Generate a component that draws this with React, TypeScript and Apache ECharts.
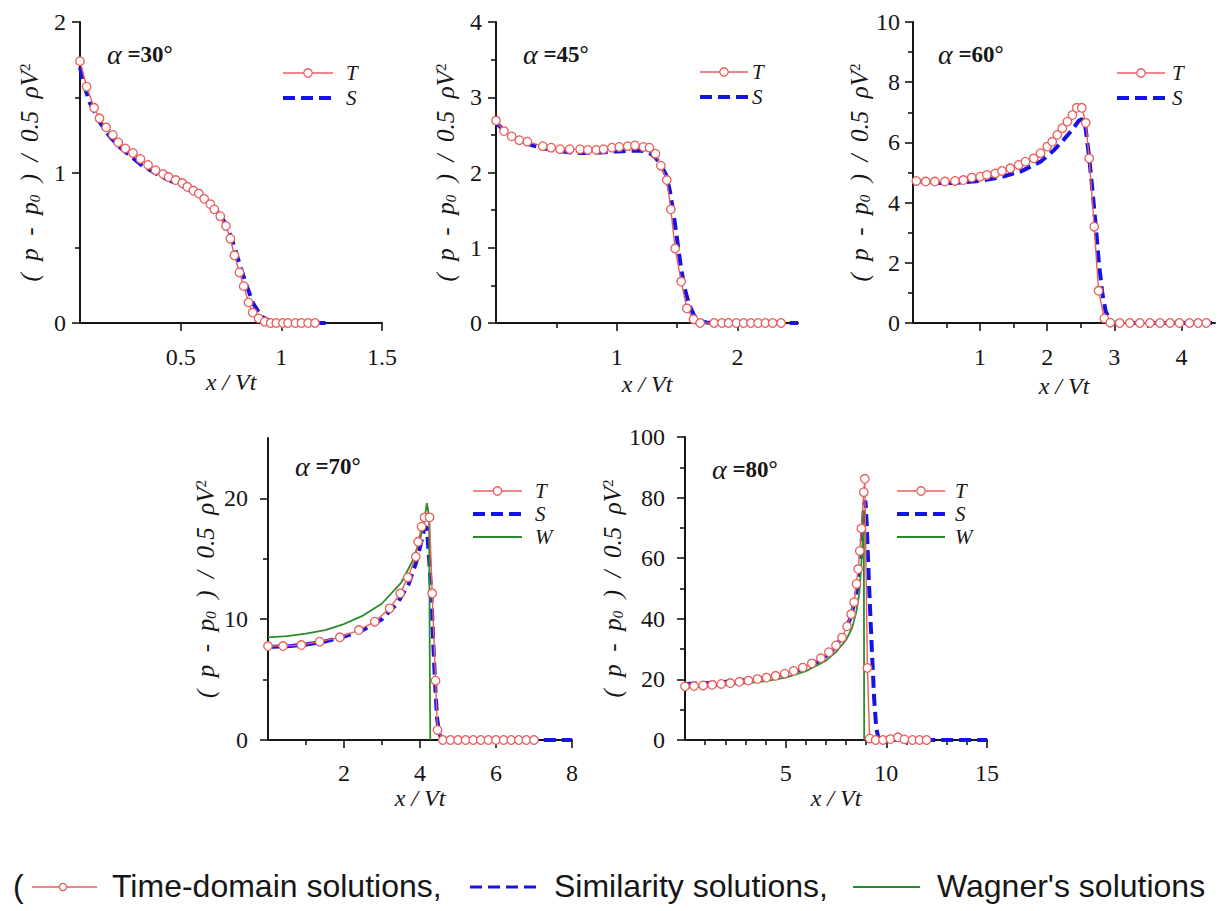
import React, { useEffect, useRef } from 'react';
import * as echarts from 'echarts';

// ---------------- data (x / Vt, (p - p0) / 0.5 rho V^2) ----------------
const t30 = [[0,1.74],[0.033,1.57],[0.07,1.43],[0.097,1.36],[0.13,1.30],[0.163,1.25],[0.19,1.20],[0.225,1.16],[0.263,1.13],[0.30,1.09],[0.338,1.05],[0.375,1.015],[0.413,0.99],[0.44,0.97],[0.475,0.95],[0.508,0.93],[0.533,0.905],[0.563,0.88],[0.59,0.86],[0.617,0.825],[0.647,0.79],[0.667,0.755],[0.697,0.71],[0.725,0.645],[0.747,0.56],[0.767,0.45],[0.792,0.336],[0.813,0.245],[0.837,0.137],[0.858,0.069],[0.887,0.031],[0.917,0.009],[0.947,0],[0.975,0],[1.008,0],[1.033,0],[1.07,0],[1.1,0],[1.133,0],[1.167,0]];
const s30 = [[0,1.70],[0.02,1.58],[0.05,1.46],[0.1,1.33],[0.15,1.235],[0.2,1.165],[0.3,1.055],[0.4,0.975],[0.5,0.915],[0.6,0.845],[0.65,0.79],[0.7,0.715],[0.73,0.64],[0.76,0.535],[0.8,0.36],[0.83,0.24],[0.86,0.13],[0.9,0.045],[0.95,0.008],[1.0,0],[1.22,0]];

const t45 = [[0,2.69],[0.066,2.55],[0.13,2.48],[0.193,2.43],[0.26,2.41],[0.387,2.35],[0.456,2.33],[0.53,2.31],[0.61,2.31],[0.696,2.31],[0.76,2.30],[0.83,2.30],[0.89,2.31],[0.96,2.33],[1.02,2.34],[1.09,2.35],[1.15,2.36],[1.22,2.34],[1.27,2.33],[1.32,2.25],[1.365,2.09],[1.414,1.90],[1.447,1.51],[1.483,0.99],[1.533,0.55],[1.58,0.195],[1.635,0.05],[1.69,0],[1.806,0],[1.87,0],[1.925,0],[1.99,0],[2.05,0],[2.11,0],[2.17,0],[2.23,0],[2.29,0],[2.36,0]];
const s45 = [[0,2.67],[0.05,2.58],[0.1,2.51],[0.2,2.42],[0.3,2.36],[0.4,2.32],[0.5,2.29],[0.6,2.27],[0.7,2.26],[0.8,2.26],[0.9,2.27],[1.0,2.28],[1.1,2.29],[1.2,2.29],[1.27,2.26],[1.32,2.2],[1.37,2.09],[1.41,1.96],[1.44,1.75],[1.47,1.45],[1.5,1.1],[1.53,0.75],[1.56,0.47],[1.6,0.24],[1.64,0.1],[1.68,0.035],[1.74,0.008],[1.8,0],[2.5,0]];

const t60 = [[0.05,4.72],[0.19,4.70],[0.325,4.70],[0.475,4.70],[0.625,4.72],[0.75,4.75],[0.875,4.83],[1.0,4.86],[1.1,4.92],[1.225,4.97],[1.325,5.05],[1.45,5.14],[1.575,5.25],[1.675,5.36],[1.8,5.47],[1.9,5.64],[2.0,5.86],[2.075,6.02],[2.15,6.25],[2.225,6.47],[2.3,6.69],[2.375,6.91],[2.44,7.15],[2.515,7.15],[2.575,6.65],[2.625,5.47],[2.70,3.20],[2.765,1.07],[2.85,0.15],[2.94,0.01],[3.08,0],[3.23,0],[3.38,0],[3.53,0],[3.68,0],[3.83,0],[3.97,0],[4.12,0],[4.25,0],[4.37,0]];
const s60 = [[0,4.73],[0.3,4.66],[0.6,4.65],[1.0,4.72],[1.3,4.84],[1.6,5.03],[1.9,5.36],[2.1,5.74],[2.25,6.1],[2.38,6.44],[2.47,6.72],[2.52,6.78],[2.57,6.5],[2.62,5.6],[2.67,4.5],[2.72,3.3],[2.77,2.0],[2.82,1.0],[2.87,0.4],[2.93,0.1],[3.0,0.01],[3.1,0],[4.5,0]];

const t70 = [[0,7.78],[0.395,7.78],[0.877,7.86],[1.36,8.14],[1.89,8.5],[2.39,9.1],[2.81,9.79],[3.2,10.9],[3.48,12.14],[3.68,13.46],[3.89,15.17],[3.95,16.41],[4.04,17.66],[4.12,18.43],[4.25,18.43],[4.32,12.14],[4.41,4.91],[4.46,0.83],[4.6,0],[4.8,0],[5.0,0],[5.2,0],[5.4,0],[5.6,0],[5.8,0],[6.0,0],[6.2,0],[6.4,0],[6.6,0],[6.8,0],[7.0,0]];
const s70 = [[0,7.7],[0.5,7.75],[1,7.9],[1.5,8.15],[2,8.55],[2.5,9.1],[3,10.0],[3.4,11.3],[3.7,12.9],[3.9,14.7],[4.05,16.6],[4.12,17.6],[4.18,17.6],[4.24,15],[4.3,11.9],[4.35,8],[4.4,4.5],[4.45,1.8],[4.5,0.6],[4.58,0],[8,0]];
const w70 = [[0,8.5],[0.5,8.6],[1,8.8],[1.5,9.1],[2,9.6],[2.5,10.3],[3,11.3],[3.5,13.0],[3.8,14.8],[4.0,16.6],[4.1,17.9],[4.18,19.6],[4.24,18.5],[4.26,5],[4.27,0]];

const t80 = [[0,17.7],[0.45,17.8],[0.9,18.0],[1.35,18.2],[1.8,18.5],[2.25,18.8],[2.7,19.2],[3.15,19.6],[3.6,20.1],[4.05,20.6],[4.5,21.2],[4.95,21.9],[5.4,22.8],[5.85,23.9],[6.3,25.3],[6.75,27.0],[7.15,29.0],[7.5,31.2],[7.8,33.8],[8.05,37.5],[8.25,41.5],[8.4,45.5],[8.52,51.5],[8.6,56.4],[8.68,62.4],[8.76,69.8],[8.88,81.8],[8.93,86.2],[9.06,23.8],[9.17,0.5],[9.47,0],[9.83,0],[10.2,0.3],[10.58,0.9],[10.9,0.2],[11.3,0],[11.65,0],[12.0,0]];
const s80 = [[0,18.5],[1,18.7],[2,19.2],[3,19.8],[4,20.6],[5,21.8],[6,23.8],[6.8,26.5],[7.4,30],[7.9,35],[8.2,40],[8.45,46],[8.6,52],[8.72,60],[8.82,70],[8.9,78],[8.96,79],[9.02,72],[9.1,58],[9.2,42],[9.3,27],[9.4,13],[9.5,4],[9.6,0.8],[9.7,0],[15,0]];
const w80 = [[0,17.3],[2,18.0],[4,19.4],[5,20.6],[6,22.7],[7,26.2],[7.5,29],[8,33],[8.3,37],[8.5,42],[8.65,48],[8.75,57],[8.82,66],[8.88,76],[8.9,0]];

// ---------------- tick labels ----------------
const x30Labels = [0.5, 1, 1.5];
const x30Minor: number[] = [];
const y30Labels = [0, 1, 2];
const y30Minor = [0.5, 1.5];
const x45Labels = [1, 2];
const x45Minor = [0.5, 1.5];
const y45Labels = [0, 1, 2, 3, 4];
const y45Minor = [0.5, 1.5, 2.5, 3.5];
const x60Labels = [1, 2, 3, 4];
const x60Minor = [0.5, 1.5, 2.5, 3.5];
const y60Labels = [0, 2, 4, 6, 8, 10];
const y60Minor = [1, 3, 5, 7, 9];
const x70Labels = [2, 4, 6, 8];
const x70Minor = [1, 3, 5, 7];
const y70Labels = [0, 10, 20];
const y70Minor = [5, 15];
const x80Labels = [5, 10, 15];
const x80Minor = [1, 2, 3, 4, 6, 7, 8, 9, 11, 12, 13, 14];
const y80Labels = [0, 20, 40, 60, 80, 100];
const y80Minor = [10, 30, 50, 70, 90];

const legendNames = ['T', 'S', 'W'];
const bottomLegendTexts = ['Time-domain solutions,', 'Similarity solutions,', "Wagner's solutions"];

// ---------------- styles / layout ----------------
const SERIF = '"Liberation Serif", "Times New Roman", serif';
const SANS = '"Liberation Sans", Arial, sans-serif';
const RED = '#eb5c5c';
const BLUE = '#1414e6';
const GREEN = '#2a8c2a';
const INK = '#161616';

const panels = [
  { angle: '30', grid: { left: 80, top: 22, width: 302, height: 301 }, x: [0, 1.5, x30Labels, x30Minor], y: [0, 2, y30Labels, y30Minor], T: t30, S: s30, W: null as any,
    title: [107, 40], leg: { x1: 283, x2: 333, tx: 346, ys: [73, 98] }, yMargin: 14, xMargin: 22, yGap: 38, xGap: 46 },
  { angle: '45', grid: { left: 496, top: 22, width: 302, height: 301 }, x: [0, 2.5, x45Labels, x45Minor], y: [0, 4, y45Labels, y45Minor], T: t45, S: s45, W: null as any,
    title: [523, 40], leg: { x1: 700, x2: 748, tx: 752, ys: [72, 97] }, yMargin: 14, xMargin: 22, yGap: 38, xGap: 49 },
  { angle: '60', grid: { left: 913, top: 22, width: 302, height: 301 }, x: [0, 4.5, x60Labels, x60Minor], y: [0, 10, y60Labels, y60Minor], T: t60, S: s60, W: null as any,
    title: [938, 40], leg: { x1: 1117, x2: 1165, tx: 1172, ys: [73, 98] }, yMargin: 13, xMargin: 22, yGap: 37, xGap: 51 },
  { angle: '70', grid: { left: 268, top: 438, width: 304, height: 302 }, x: [0, 8, x70Labels, x70Minor], y: [0, 25, y70Labels, y70Minor], T: t70, S: s70, W: w70,
    title: [295, 452], leg: { x1: 473, x2: 522, tx: 535, ys: [491, 514, 537] }, yMargin: 20, xMargin: 21, yGap: 50, xGap: 43 },
  { angle: '80', grid: { left: 685, top: 437, width: 302, height: 303 }, x: [0, 15, x80Labels, x80Minor], y: [0, 100, y80Labels, y80Minor], T: t80, S: s80, W: w80,
    title: [712, 455], leg: { x1: 897, x2: 945, tx: 955, ys: [491, 514, 537] }, yMargin: 20, xMargin: 21, yGap: 54, xGap: 44 },
];

const labelStyle = { fontFamily: SERIF, fontSize: 24, color: INK };
const tickLine = { color: INK, width: 1.6 };

function axisPair(dim: 'x' | 'y', gi: number, spec: any[], margin: number, gap: number) {
  const [min, max, labels, minor] = spec;
  const isX = dim === 'x';
  const name = isX ? 'x / Vt' : '(  p  -  p{s|0}  )  /  0.5  ρV{u|2}';
  const main: any = {
    type: 'value', gridIndex: gi, position: isX ? 'bottom' : 'left', min, max,
    name, nameLocation: 'middle', nameGap: gap,
    nameTextStyle: {
      fontFamily: SERIF, fontStyle: 'italic', fontSize: isX ? 24 : 25, color: INK,
      rich: {
        s: { fontFamily: SERIF, fontStyle: 'italic', fontSize: 15, color: INK, verticalAlign: 'bottom', lineHeight: 15 },
        u: { fontFamily: SERIF, fontStyle: 'normal', fontSize: 15, color: INK, verticalAlign: 'top', lineHeight: 15 },
      },
    },
    axisLine: { show: true, onZero: false, lineStyle: { color: INK, width: 2 } },
    axisTick: { show: true, customValues: labels, length: 8, lineStyle: tickLine },
    axisLabel: { show: true, customValues: labels, margin, ...labelStyle },
    splitLine: { show: false },
  };
  const minorAxis: any = {
    type: 'value', gridIndex: gi, position: isX ? 'bottom' : 'left', min, max,
    axisLine: { show: false },
    axisLabel: { show: false },
    splitLine: { show: false },
    axisTick: minor.length ? { show: true, customValues: minor, length: 5, lineStyle: tickLine } : { show: false },
  };
  return [main, minorAxis];
}

function buildOption() {
  const grid = panels.map((p) => ({ ...p.grid, containLabel: false, outerBoundsMode: 'none' }));
  const xAxis: any[] = [];
  const yAxis: any[] = [];
  const series: any[] = [];
  const title: any[] = [];
  const graphic: any[] = [];

  panels.forEach((p, i) => {
    xAxis.push(...axisPair('x', i, p.x, p.xMargin, p.xGap));
    yAxis.push(...axisPair('y', i, p.y, p.yMargin, p.yGap));
    const ax = { xAxisIndex: 2 * i, yAxisIndex: 2 * i };
    series.push({
      type: 'line', name: 'S', ...ax, data: p.S, showSymbol: false, symbol: 'none',
      lineStyle: { color: BLUE, width: 4, type: [12, 6] }, z: 2,
    });
    if (p.W) {
      series.push({
        type: 'line', name: 'W', ...ax, data: p.W, showSymbol: false, symbol: 'none',
        lineStyle: { color: GREEN, width: 1.8 }, z: 3,
      });
    }
    series.push({
      type: 'line', name: 'T', ...ax, data: p.T, symbol: 'circle', symbolSize: 8.5, showSymbol: true,
      itemStyle: { color: '#ffffff', borderColor: RED, borderWidth: 1.3 },
      lineStyle: { color: RED, width: 1.4 }, z: 4,
    });

    title.push({
      text: '{a|α} =' + p.angle + '°', left: p.title[0], top: p.title[1], padding: 0,
      textStyle: {
        fontFamily: SERIF, fontWeight: 'bold', fontSize: 23, color: INK,
        rich: { a: { fontFamily: SERIF, fontStyle: 'italic', fontWeight: 'normal', fontSize: 28, color: INK } },
      },
    });

    // in-panel legend
    const L = p.leg;
    const n = p.W ? 3 : 2;
    for (let k = 0; k < n; k++) {
      const y = L.ys[k];
      const nm = legendNames[k];
      if (nm === 'T') {
        graphic.push({ type: 'line', shape: { x1: L.x1, y1: y, x2: L.x2, y2: y }, style: { stroke: RED, lineWidth: 1.4 }, z: 10 });
        graphic.push({ type: 'circle', shape: { cx: (L.x1 + L.x2) / 2, cy: y, r: 4.2 }, style: { fill: '#fff', stroke: RED, lineWidth: 1.3 }, z: 11 });
      } else if (nm === 'S') {
        graphic.push({ type: 'line', shape: { x1: L.x1, y1: y, x2: L.x2, y2: y }, style: { stroke: BLUE, lineWidth: 4, lineDash: [12, 6] }, z: 10 });
      } else {
        graphic.push({ type: 'line', shape: { x1: L.x1, y1: y, x2: L.x2, y2: y }, style: { stroke: GREEN, lineWidth: 1.8 }, z: 10 });
      }
      graphic.push({ type: 'text', x: L.tx, y, style: { text: nm, font: 'italic 21px ' + SERIF, lineHeight: 20, fill: INK, verticalAlign: 'middle', align: 'left' }, z: 10 });
    }
  });

  // bottom legend
  const by = 886;
  const bfont = '32px ' + SANS;
  graphic.push({ type: 'text', x: 13, y: by, style: { text: '(', font: bfont, fill: INK, verticalAlign: 'middle' } });
  graphic.push({ type: 'line', shape: { x1: 32, y1: by + 1, x2: 97, y2: by + 1 }, style: { stroke: RED, lineWidth: 1.4 } });
  graphic.push({ type: 'circle', shape: { cx: 63, cy: by + 1, r: 3.6 }, style: { fill: '#fff', stroke: RED, lineWidth: 1.3 } });
  graphic.push({ type: 'text', x: 112, y: by, style: { text: bottomLegendTexts[0], font: bfont, fill: INK, verticalAlign: 'middle' } });
  graphic.push({ type: 'line', shape: { x1: 470, y1: by + 1, x2: 537, y2: by + 1 }, style: { stroke: BLUE, lineWidth: 3, lineDash: [12, 6] } });
  graphic.push({ type: 'text', x: 554, y: by, style: { text: bottomLegendTexts[1], font: bfont, fill: INK, verticalAlign: 'middle' } });
  graphic.push({ type: 'line', shape: { x1: 853, y1: by + 1, x2: 920, y2: by + 1 }, style: { stroke: GREEN, lineWidth: 2 } });
  graphic.push({ type: 'text', x: 937, y: by, style: { text: bottomLegendTexts[2], font: bfont, fill: INK, verticalAlign: 'middle' } });

  return {
    animation: false,
    backgroundColor: '#ffffff',
    grid, xAxis, yAxis, series, title, graphic,
  };
}

export default function App() {
  const ref = useRef<HTMLDivElement>(null);
  useEffect(() => {
    if (!ref.current) return;
    const chart = echarts.init(ref.current, null, { renderer: 'svg' });
    chart.setOption(buildOption() as any);
    return () => chart.dispose();
  }, []);
  return (
    <div
      ref={ref}
      style={{ position: 'absolute', left: 0, top: 0, width: 1218, height: 911, background: '#fff' }}
    />
  );
}
